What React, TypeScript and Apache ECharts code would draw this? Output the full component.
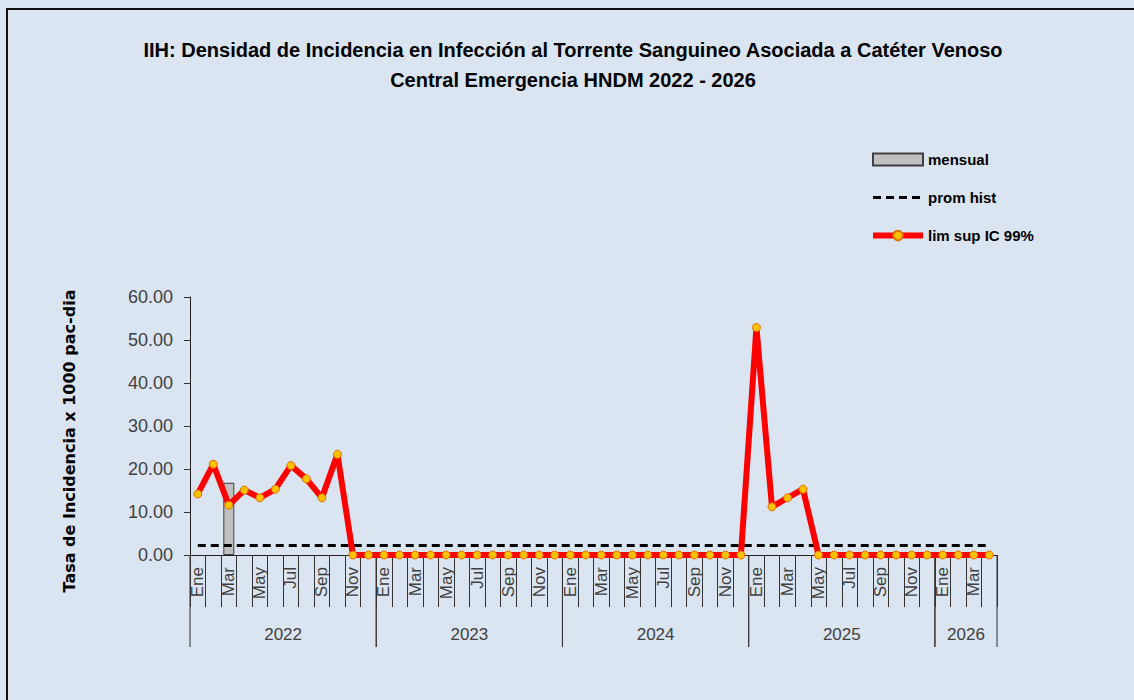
import React, { useEffect, useRef } from "react";
import * as echarts from "echarts";

const monthNames = ["Ene", "Feb", "Mar", "Abr", "May", "Jun", "Jul", "Ago", "Sep", "Oct", "Nov", "Dic"];
const yearLabels = ["2022", "2023", "2024", "2025", "2026"];
const monthsPerYear = [12, 12, 12, 12, 4];

const mensual2022 = [null, null, 16.8, null, null, null, null, null, null, null, null, null];
const mensual2023 = [null, null, null, null, null, null, null, null, null, null, null, null];
const mensual2024 = [null, null, null, null, null, null, null, null, null, null, null, null];
const mensual2025 = [null, null, null, null, null, null, null, null, null, null, null, null];
const mensual2026 = [null, null, null, null];

const promHist2022 = [2.2, 2.2, 2.2, 2.2, 2.2, 2.2, 2.2, 2.2, 2.2, 2.2, 2.2, 2.2];
const promHist2023 = [2.2, 2.2, 2.2, 2.2, 2.2, 2.2, 2.2, 2.2, 2.2, 2.2, 2.2, 2.2];
const promHist2024 = [2.2, 2.2, 2.2, 2.2, 2.2, 2.2, 2.2, 2.2, 2.2, 2.2, 2.2, 2.2];
const promHist2025 = [2.2, 2.2, 2.2, 2.2, 2.2, 2.2, 2.2, 2.2, 2.2, 2.2, 2.2, 2.2];
const promHist2026 = [2.2, 2.2, 2.2, 2.2];

const limSup2022 = [14.2, 21.1, 11.6, 15.1, 13.3, 15.3, 20.8, 17.7, 13.3, 23.4, 0, 0];
const limSup2023 = [0, 0, 0, 0, 0, 0, 0, 0, 0, 0, 0, 0];
const limSup2024 = [0, 0, 0, 0, 0, 0, 0, 0, 0, 0, 0, 0];
const limSup2025 = [52.9, 11.2, 13.3, 15.3, 0, 0, 0, 0, 0, 0, 0, 0];
const limSup2026 = [0, 0, 0, 0];

const yTicks = [0, 10, 20, 30, 40, 50, 60];

const FONT = "'Liberation Sans', Arial, sans-serif";
const NAME_FONT = "'DejaVu Sans', Verdana, sans-serif";

export default function App() {
  const ref = useRef<HTMLDivElement>(null);

  useEffect(() => {
    if (!ref.current) return;
    const chart = echarts.init(ref.current, null, { renderer: "svg" });

    const categories: string[] = [];
    const yearRanges: number[][] = [];
    let idx = 0;
    yearLabels.forEach((y, yi) => {
      const start = idx;
      for (let m = 0; m < monthsPerYear[yi]; m++) {
        categories.push(monthNames[m] + "-" + y);
        idx++;
      }
      yearRanges.push([start, idx - 1, 0]);
    });

    const mensual = [...mensual2022, ...mensual2023, ...mensual2024, ...mensual2025, ...mensual2026];
    const promHist = [...promHist2022, ...promHist2023, ...promHist2024, ...promHist2025, ...promHist2026];
    const limSup = [...limSup2022, ...limSup2023, ...limSup2024, ...limSup2025, ...limSup2026];

    chart.setOption({
      animation: false,
      backgroundColor: "#dbe5f1",
      textStyle: { fontFamily: FONT },
      title: {
        text: "IIH: Densidad de Incidencia en Infección al Torrente Sanguineo Asociada a Catéter Venoso\nCentral Emergencia HNDM 2022 - 2026",
        left: 573,
        textAlign: "center",
        top: 35,
        padding: 0,
        textStyle: {
          fontFamily: FONT,
          fontSize: 20,
          fontWeight: "bold",
          color: "#000",
          lineHeight: 30,
        },
      },
      legend: {
        orient: "vertical",
        left: 870,
        top: 152,
        padding: 0,
        itemWidth: 50,
        itemHeight: 12,
        itemGap: 23,
        textStyle: { fontFamily: FONT, fontSize: 15, fontWeight: "bold", color: "#000" },
        data: [
          { name: "mensual", icon: "rect" },
          { name: "prom hist", itemStyle: { opacity: 0 }, lineStyle: { width: 3 } },
          { name: "lim sup IC 99%", lineStyle: { width: 6 } },
        ],
      },
      grid: { left: 190, right: 137, top: 297, bottom: 145 },
      xAxis: {
        type: "category",
        data: categories,
        boundaryGap: true,
        axisLine: { show: true, lineStyle: { color: "#222", width: 1 } },
        axisTick: { show: true, interval: 0, length: 52, lineStyle: { color: "#333", width: 1 } },
        axisLabel: {
          interval: 1,
          rotate: 90,
          margin: 12,
          fontSize: 17,
          color: "#404040",
          fontFamily: FONT,
          formatter: (v: string) => v.split("-")[0],
        },
        splitLine: { show: false },
      },
      yAxis: {
        type: "value",
        min: yTicks[0],
        max: yTicks[yTicks.length - 1],
        interval: 10,
        name: "Tasa de Incidencia x 1000 pac-dia",
        nameLocation: "middle",
        nameGap: 113,
        nameTextStyle: {
          fontFamily: NAME_FONT,
          fontSize: 16,
          fontWeight: "bold",
          color: "#000",
          padding: [0, 30, 0, 0],
        },
        axisLine: { show: true, lineStyle: { color: "#222", width: 1 } },
        axisTick: { show: true, inside: false, length: 6, lineStyle: { color: "#333" } },
        axisLabel: {
          margin: 17,
          fontSize: 18,
          color: "#404040",
          fontFamily: FONT,
          formatter: (v: number) => v.toFixed(2),
        },
        splitLine: { show: false },
      },
      series: [
        {
          name: "mensual",
          type: "bar",
          data: mensual,
          barWidth: 11,
          itemStyle: { color: "#c0c0c0", borderColor: "#404040", borderWidth: 1 },
          z: 2,
        },
        {
          name: "prom hist",
          type: "line",
          data: promHist,
          symbol: "none",
          lineStyle: { color: "#000", width: 3, type: [8, 5] },
          itemStyle: { color: "#000" },
          z: 3,
        },
        {
          name: "lim sup IC 99%",
          type: "line",
          data: limSup,
          symbol: "circle",
          symbolSize: 8,
          showAllSymbol: true,
          lineStyle: { color: "#ff0000", width: 6 },
          itemStyle: { color: "#ffc000", borderColor: "#e07000", borderWidth: 1 },
          z: 4,
        },
        {
          name: "years",
          type: "custom",
          silent: true,
          clip: false,
          data: yearRanges,
          encode: { x: [0, 1], y: 2 },
          renderItem: (params: any, api: any) => {
            const s = api.value(0);
            const e = api.value(1);
            const p0 = api.coord([s, 0]);
            const p1 = api.coord([e, 0]);
            const bw = api.size([1, 0])[0];
            const x0 = p0[0] - bw / 2;
            const x1 = p1[0] + bw / 2;
            const y = p0[1];
            return {
              type: "group",
              children: [
                { type: "line", shape: { x1: x0, y1: y, x2: x0, y2: y + 92 }, style: { stroke: "#333", lineWidth: 1 } },
                { type: "line", shape: { x1: x1, y1: y, x2: x1, y2: y + 92 }, style: { stroke: "#333", lineWidth: 1 } },
                {
                  type: "text",
                  x: (x0 + x1) / 2,
                  y: y + 79,
                  style: {
                    text: yearLabels[params.dataIndex],
                    textAlign: "center",
                    textVerticalAlign: "middle",
                    fontSize: 17,
                    fontFamily: FONT,
                    fill: "#404040",
                  },
                },
              ],
            };
          },
          z: 1,
        },
      ],
    });

    return () => chart.dispose();
  }, []);

  return (
    <div style={{ position: "fixed", left: 0, top: 0, width: 1134, height: 700, background: "#dbe5f1", overflow: "hidden" }}>
      <div ref={ref} style={{ position: "absolute", left: 0, top: 0, width: 1134, height: 700 }} />
      <div
        style={{
          position: "absolute",
          left: 6,
          top: 8,
          width: 1128,
          height: 692,
          borderLeft: "2px solid #111",
          borderTop: "2px solid #111",
          boxSizing: "border-box",
          pointerEvents: "none",
        }}
      />
    </div>
  );
}
